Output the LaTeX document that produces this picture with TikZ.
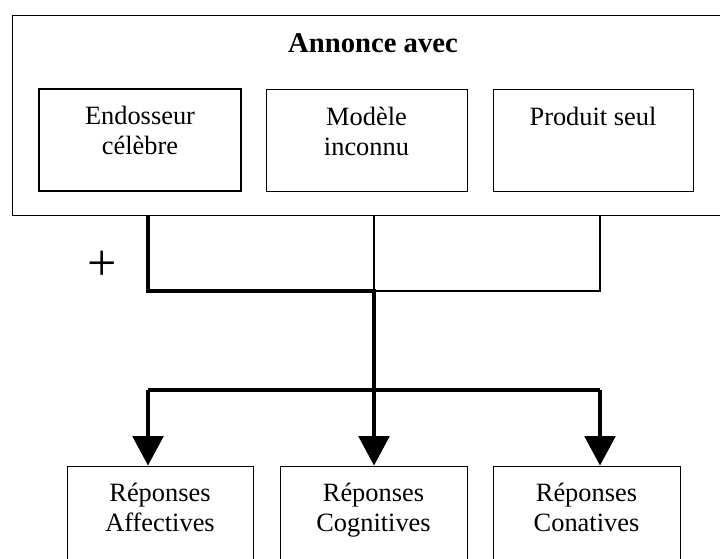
\documentclass[tikz,border=0pt]{standalone}
\usepackage{fontspec}
\setmainfont{Liberation Serif}
\usetikzlibrary{arrows.meta}
\begin{document}
\begin{tikzpicture}[x=0.75pt,y=-0.75pt,
  box/.style={draw=black,line width=0.75pt,rectangle,inner sep=0pt},
  thickbox/.style={box,line width=2pt},
  lbl/.style={anchor=north,inner sep=0pt,align=center,font=\fontsize{19.8pt}{22.5pt}\selectfont},
  thinline/.style={line width=0.8pt},
  thickline/.style={line width=2.4pt},
  thickarrow/.style={line width=2.4pt,-{Triangle[width=23pt,length=22pt]}}]
\useasboundingbox (0,0) rectangle (720,558);
\clip (0,0) rectangle (720,558);
\fill[white] (0,0) rectangle (720,558);
% outer box (its right edge lies beyond the picture)
\node[box,minimum width=534pt,minimum height=150pt] (ann) at (368.5,115) {};
\node[inner sep=0pt,font=\fontsize{21.5pt}{24pt}\selectfont\bfseries] (title) at (373,43) {Annonce avec};
% inner boxes
\node[thickbox,minimum width=151.5pt,minimum height=76.5pt] (endo) at (140,140) {};
\node[box,minimum width=150.75pt,minimum height=76.5pt] (mod) at (366.5,140) {};
\node[box,minimum width=150pt,minimum height=76.5pt] (prod) at (593,140) {};
\node[lbl] (endot) at ([yshift=-13.5pt]endo.north) {Endosseur\\célèbre};
\node[lbl] (modt) at ([yshift=-13.5pt]mod.north) {Modèle\\inconnu};
\node[lbl] (prodt) at ([yshift=-13.5pt]prod.north) {Produit seul};
% response boxes
\node[box,minimum width=139.5pt,minimum height=78pt] (aff) at (160,518) {};
\node[box,minimum width=140.25pt,minimum height=78pt] (cog) at (373.5,518) {};
\node[box,minimum width=140.25pt,minimum height=78pt] (con) at (586.5,518) {};
\node[lbl] (afft) at ([yshift=-13pt]aff.north) {Réponses\\Affectives};
\node[lbl] (cogt) at ([yshift=-13pt]cog.north) {Réponses\\Cognitives};
\node[lbl] (cont) at ([yshift=-13pt]con.north) {Réponses\\Conatives};
% plus
\node[inner sep=0pt,font=\fontsize{39pt}{39pt}\selectfont] (plus) at (102,266) {+};
% junction coordinates
\coordinate (s1) at (148,215);
\coordinate (s2) at (374,215);
\coordinate (s3) at (600,215);
\coordinate (j1) at (148,291);
\coordinate (j2) at (374,291);
\coordinate (j3) at (600,291);
\coordinate (b1) at (148,390);
\coordinate (b2) at (374,390);
\coordinate (b3) at (600,390);
% thin connectors
\draw[thinline] (s2) -- (j2) -- (j3) -- (s3);
% thick connectors
\draw[thickline,line join=miter] (s1) -- (j1) -- (j2) -- (b2);
\draw[thickline,line join=miter] (b1) -- (b3);
\draw[thickarrow] (b1) -- (b1 |- aff.north);
\draw[thickarrow] (b2) -- (b2 |- cog.north);
\draw[thickarrow] (b3) -- (b3 |- con.north);
\end{tikzpicture}
\end{document}
